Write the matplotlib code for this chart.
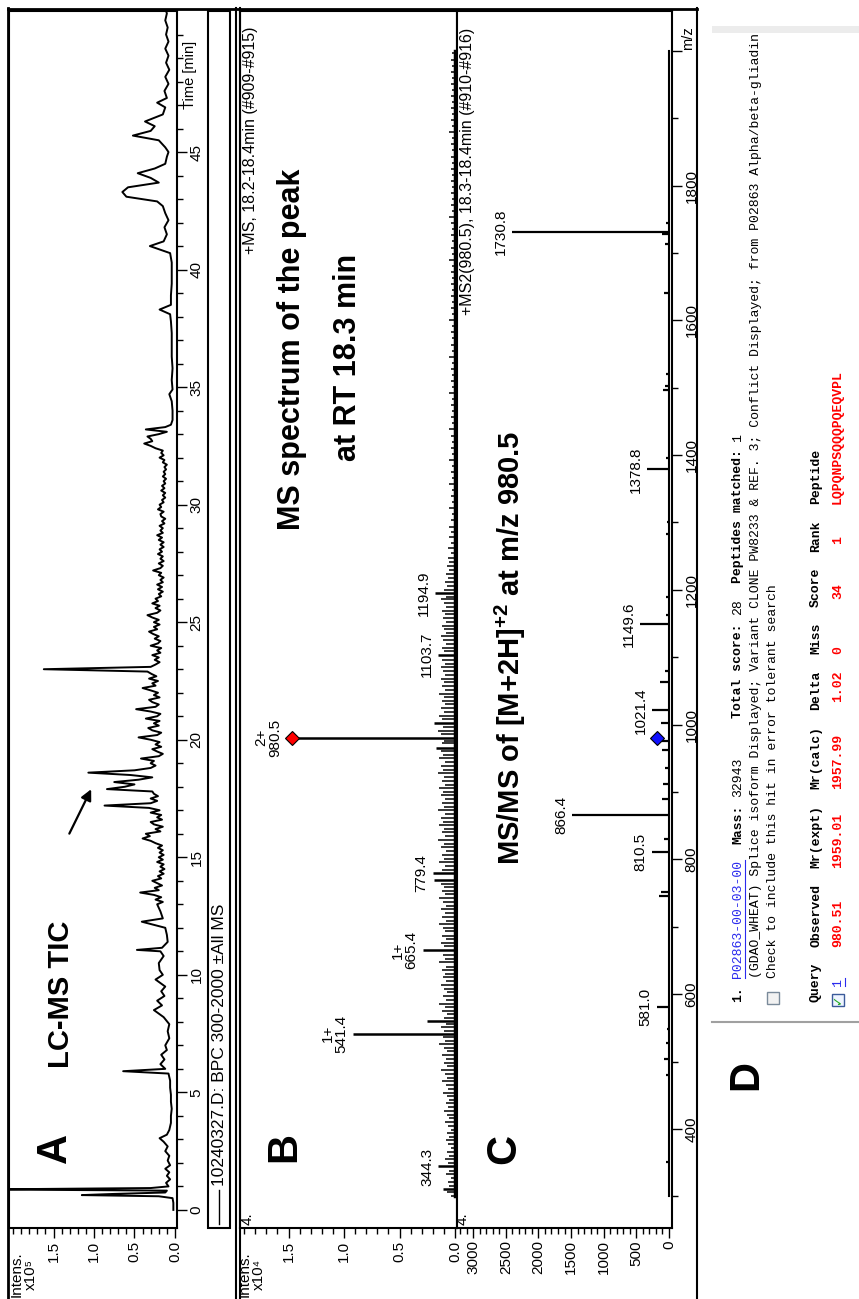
import matplotlib
matplotlib.use("Agg")
import matplotlib.pyplot as plt
from matplotlib.lines import Line2D
from matplotlib.patches import Rectangle
from matplotlib.ticker import FixedLocator

plt.rcParams['font.family'] = ['Liberation Sans', 'DejaVu Sans']
plt.rcParams['mathtext.fontset'] = 'custom'
plt.rcParams['mathtext.rm'] = 'Liberation Sans:bold'
plt.rcParams['mathtext.bf'] = 'Liberation Sans:bold'

# === DATA ===
# A: LC-MS TIC, time [min] vs intensity [x1e5]
tic_time = [0.0, 0.3, 0.5, 0.58, 0.63, 0.68, 0.74, 0.82, 0.87, 0.93,
            1.0, 1.15, 1.3, 1.45, 1.6, 1.75, 1.9, 2.1, 2.3, 2.5,
            2.7, 2.9, 3.05, 3.2, 3.4, 3.7, 4.0, 4.3, 4.6, 4.9,
            5.2, 5.5, 5.8, 5.9, 6.0, 6.2, 6.4, 6.6, 6.8, 7.0,
            7.3, 7.6, 7.9, 8.2, 8.5, 8.7, 8.9, 9.1, 9.3, 9.5,
            9.8, 10.0, 10.2, 10.5, 10.8, 11.0, 11.06, 11.15, 11.4, 11.7,
            12.0, 12.26, 12.4, 12.7,
            13.0, 13.1, 13.2, 13.3, 13.4, 13.5, 13.6, 13.7, 13.8, 13.9,
            14.0, 14.1, 14.2, 14.3, 14.4, 14.5, 14.6, 14.7, 14.8, 14.9,
            15.0, 15.1, 15.2, 15.3, 15.4, 15.5, 15.6, 15.7, 15.8, 15.9,
            16.0, 16.1, 16.2, 16.3, 16.4, 16.5, 16.6, 16.7, 16.8, 16.9,
            17.0, 17.1, 17.2, 17.3, 17.4, 17.5, 17.6, 17.7, 17.8, 17.9,
            18.0, 18.1, 18.2, 18.3, 18.4, 18.5, 18.6, 18.7, 18.8, 18.9,
            19.0, 19.1, 19.2, 19.3, 19.4, 19.5, 19.6, 19.7, 19.8, 19.9,
            20.0, 20.1, 20.2, 20.3, 20.4, 20.5, 20.6, 20.7, 20.8, 20.9,
            21.0, 21.1, 21.2, 21.3, 21.4, 21.5, 21.6, 21.7, 21.8, 21.9,
            22.0, 22.1, 22.2, 22.3, 22.4, 22.5, 22.6, 22.7, 22.8, 22.9,
            23.0, 23.1, 23.2, 23.3, 23.4, 23.5, 23.6, 23.7, 23.8, 23.9,
            24.0, 24.1, 24.2, 24.3, 24.4, 24.5, 24.6, 24.7, 24.8, 24.9,
            25.0, 25.1, 25.2, 25.3, 25.4, 25.5, 25.6, 25.7, 25.8, 25.9,
            26.0, 26.1, 26.2, 26.3, 26.4, 26.5, 26.6, 26.7, 26.8, 26.9,
            27.0, 27.1, 27.2, 27.3, 27.4, 27.5, 27.6, 27.7, 27.8, 27.9,
            28.0, 28.1, 28.2, 28.3, 28.4, 28.5, 28.6, 28.7, 28.8, 28.9,
            29.0, 29.1, 29.2, 29.3, 29.4, 29.5, 29.6, 29.7, 29.8, 29.9,
            30.0, 30.1, 30.2, 30.3, 30.4, 30.5, 30.6, 30.7, 30.8, 30.9,
            31.0, 31.1, 31.2, 31.3, 31.4, 31.5, 31.6, 31.7, 31.8, 31.9,
            32.0, 32.1, 32.2, 32.3, 32.4, 32.5, 32.6, 32.7, 32.8, 32.9,
            33.0, 33.1, 33.2, 33.3, 33.4,
            33.6, 34.0, 34.4, 34.7, 34.9, 35.3, 35.8, 36.3, 36.8, 37.3,
            37.8, 38.1, 38.3, 38.5, 38.9, 39.4, 39.9, 40.3, 40.7, 41.0,
            41.2, 41.5, 41.8, 42.1, 42.4, 42.7, 42.9, 43.1, 43.3, 43.5,
            43.7, 43.9, 44.1, 44.3, 44.5, 44.8, 45.0, 45.2, 45.5, 45.7,
            45.9, 46.1, 46.3, 46.6, 46.9, 47.1, 47.3, 47.6, 47.9, 48.2,
            48.5, 48.8, 49.1, 49.4, 49.7, 50.0, 50.3, 50.6, 50.9, 51.1]
tic_int = [0.02, 0.02, 0.03, 0.20, 1.15, 0.75, 0.12, 0.10, 2.40, 0.30,
           0.08, 0.11, 0.06, 0.10, 0.07, 0.12, 0.06, 0.09, 0.07, 0.12,
           0.09, 0.14, 0.19, 0.10, 0.07, 0.05, 0.05, 0.04, 0.05, 0.05,
           0.06, 0.06, 0.08, 0.64, 0.12, 0.18, 0.13, 0.17, 0.10, 0.12,
           0.07, 0.09, 0.07, 0.14, 0.26, 0.16, 0.22, 0.13, 0.17, 0.12,
           0.24, 0.15, 0.19, 0.20, 0.14, 0.18, 0.47, 0.16, 0.09, 0.10,
           0.12, 0.41, 0.15, 0.18,
           0.22, 0.15, 0.24, 0.17, 0.26, 0.43, 0.20, 0.25, 0.16, 0.22,
           0.28, 0.17, 0.21, 0.14, 0.19, 0.13, 0.18, 0.14, 0.22, 0.15,
           0.20, 0.14, 0.19, 0.15, 0.21, 0.16, 0.24, 0.30, 0.40, 0.31,
           0.36, 0.18, 0.24, 0.15, 0.26, 0.30, 0.16, 0.22, 0.17, 0.30,
           0.19, 0.32, 0.87, 0.30, 0.22, 0.30, 0.21, 0.26, 0.28, 0.84,
           0.62, 0.50, 0.75, 0.45, 0.28, 0.55, 1.07, 0.50, 0.30, 0.24,
           0.30, 0.26, 0.42, 0.20, 0.15, 0.22, 0.28, 0.17, 0.24, 0.19,
           0.30, 0.45, 0.22, 0.17, 0.28, 0.33, 0.20, 0.26, 0.19, 0.36,
           0.22, 0.18, 0.30, 0.48, 0.24, 0.20, 0.28, 0.32, 0.19, 0.26,
           0.21, 0.30, 0.40, 0.24, 0.28, 0.21, 0.32, 0.23, 0.29, 0.34,
           1.62, 0.30, 0.24, 0.19, 0.25, 0.20, 0.28, 0.18, 0.22, 0.17,
           0.30, 0.21, 0.18, 0.25, 0.20, 0.27, 0.32, 0.22, 0.26, 0.19,
           0.26, 0.20, 0.28, 0.34, 0.22, 0.18, 0.24, 0.19, 0.28, 0.21,
           0.24, 0.17, 0.20, 0.15, 0.21, 0.16, 0.22, 0.15, 0.18, 0.14,
           0.20, 0.17, 0.27, 0.18, 0.15, 0.20, 0.14, 0.18, 0.15, 0.21,
           0.16, 0.19, 0.14, 0.18, 0.14, 0.20, 0.16, 0.22, 0.15, 0.18,
           0.15, 0.19, 0.13, 0.16, 0.12, 0.17, 0.18, 0.14, 0.21, 0.17,
           0.19, 0.14, 0.16, 0.12, 0.15, 0.12, 0.17, 0.13, 0.16, 0.12,
           0.14, 0.11, 0.15, 0.12, 0.14, 0.11, 0.13, 0.10, 0.15, 0.13,
           0.19, 0.14, 0.17, 0.15, 0.24, 0.30, 0.38, 0.28, 0.30, 0.34,
           0.20, 0.10, 0.36, 0.12, 0.05,
           0.03, 0.03, 0.04, 0.07, 0.03, 0.04, 0.03, 0.04, 0.04, 0.04,
           0.05, 0.06, 0.19, 0.05, 0.05, 0.04, 0.04, 0.04, 0.06, 0.31,
           0.14, 0.10, 0.13, 0.08, 0.12, 0.15, 0.22, 0.60, 0.65, 0.58,
           0.20, 0.30, 0.46, 0.25, 0.12, 0.10, 0.08, 0.12, 0.20, 0.52,
           0.30, 0.25, 0.37, 0.15, 0.12, 0.22, 0.10, 0.13, 0.08, 0.12,
           0.07, 0.11, 0.08, 0.12, 0.08, 0.11, 0.09, 0.12, 0.10, 0.12]
time_ticks = [0, 5, 10, 15, 20, 25, 30, 35, 40, 45]
tic_int_ticks = [0.0, 0.5, 1.0, 1.5]
tic_int_labels = ['0.0', '0.5', '1.0', '1.5']

# B: full MS at RT 18.3 min, m/z vs intensity [x1e4]
ms_peak_mz = [311, 344.3, 541.4, 560, 665.4, 770, 779.4, 966, 980.5, 1002, 1103.7, 1194.9]
ms_peak_int = [0.11, 0.15, 0.92, 0.25, 0.29, 0.19, 0.20, 0.17, 1.47, 0.19, 0.15, 0.18]
ms_label_mz = [344.3, 541.4, 665.4, 779.4, 980.5, 1103.7, 1194.9]
ms_label_int = [0.15, 0.92, 0.29, 0.20, 1.47, 0.15, 0.18]
ms_label_txt = ['344.3', '1+\n541.4', '1+\n665.4', '779.4', '2+\n980.5', '1103.7', '1194.9']
ms_noise_mz = [301, 306, 316, 322, 327, 333, 338, 349, 355, 360, 366, 371, 377, 383, 388, 394, 399,
               405, 410, 416, 421, 427, 432, 438, 443, 449, 454, 460, 465, 471, 476, 482, 487, 493,
               498, 504, 509, 515, 520, 526, 531, 536, 546, 551, 556, 565, 570, 575, 581, 586, 592,
               597, 603, 608, 614, 619, 625, 630, 636, 641, 647, 652, 658, 671, 676, 682, 687, 693,
               698, 704, 709, 715, 720, 726, 731, 737, 742, 748, 753, 759, 764, 785, 790, 796, 801,
               807, 812, 818, 823, 829, 834, 840, 845, 851, 856, 862, 867, 873, 878, 884, 889, 895,
               900, 906, 911, 917, 922, 928, 933, 939, 944, 950, 955, 961, 972, 976, 986, 991, 997,
               1008, 1013, 1019, 1024, 1030, 1035, 1041, 1046, 1052, 1057, 1063, 1068, 1074, 1079,
               1085, 1090, 1096, 1109, 1114, 1120, 1125, 1131, 1136, 1142, 1147, 1153, 1158, 1164,
               1169, 1175, 1180, 1186, 1190, 1200, 1206, 1212, 1218, 1224, 1230, 1236, 1242, 1248,
               1255, 1262, 1270, 1278, 1286, 1294, 1303, 1312, 1321, 1330, 1339, 1348, 1357, 1366,
               1375, 1384, 1393, 1402, 1411, 1420, 1429, 1438, 1447, 1456, 1465, 1474, 1483, 1492,
               1501, 1510, 1519, 1528, 1537, 1546, 1555, 1564, 1573, 1582, 1591, 1600, 1609, 1618,
               1627, 1636, 1645, 1654, 1663, 1672, 1681, 1690, 1699, 1708, 1717, 1726, 1735, 1744,
               1753, 1762, 1771, 1780, 1789, 1798, 1807, 1816, 1825, 1834, 1843, 1852, 1861, 1870,
               1879, 1888, 1897, 1906, 1915, 1924, 1933, 1942, 1951, 1960, 1969, 1978, 1987, 1996]
ms_noise_int = [0.04, 0.07, 0.05, 0.06, 0.04, 0.08, 0.05, 0.06, 0.09, 0.05, 0.07, 0.04, 0.06, 0.08, 0.05, 0.07, 0.04,
                0.06, 0.09, 0.05, 0.07, 0.10, 0.06, 0.08, 0.05, 0.07, 0.11, 0.06, 0.08, 0.12, 0.07, 0.09, 0.13, 0.07,
                0.10, 0.08, 0.12, 0.07, 0.10, 0.14, 0.09, 0.11, 0.10, 0.13, 0.08, 0.10, 0.07, 0.12, 0.09, 0.14, 0.08,
                0.11, 0.07, 0.10, 0.13, 0.08, 0.11, 0.09, 0.12, 0.08, 0.14, 0.09, 0.11, 0.10, 0.13, 0.08, 0.12, 0.09,
                0.11, 0.14, 0.08, 0.12, 0.09, 0.13, 0.08, 0.11, 0.14, 0.09, 0.12, 0.10, 0.13, 0.12, 0.09, 0.14, 0.10,
                0.12, 0.08, 0.13, 0.10, 0.15, 0.09, 0.12, 0.10, 0.14, 0.11, 0.13, 0.09, 0.15, 0.10, 0.12, 0.09, 0.13,
                0.11, 0.14, 0.09, 0.12, 0.10, 0.15, 0.11, 0.13, 0.09, 0.14, 0.11, 0.13, 0.12, 0.10, 0.13, 0.15, 0.11,
                0.12, 0.14, 0.10, 0.13, 0.09, 0.12, 0.10, 0.14, 0.09, 0.12, 0.10, 0.13, 0.09, 0.11,
                0.13, 0.09, 0.12, 0.10, 0.12, 0.08, 0.11, 0.13, 0.08, 0.10, 0.12, 0.08, 0.11, 0.09,
                0.12, 0.08, 0.10, 0.13, 0.08, 0.10, 0.07, 0.09, 0.06, 0.08, 0.05, 0.07, 0.05, 0.06,
                0.04, 0.06, 0.04, 0.05, 0.04, 0.05, 0.04, 0.03, 0.05, 0.03, 0.04, 0.03, 0.05, 0.03,
                0.04, 0.03, 0.05, 0.03, 0.04, 0.03, 0.04, 0.05, 0.03, 0.04, 0.03, 0.04, 0.03, 0.05,
                0.03, 0.04, 0.03, 0.04, 0.03, 0.05, 0.03, 0.04, 0.03, 0.04, 0.03, 0.05, 0.03, 0.04,
                0.03, 0.04, 0.03, 0.04, 0.03, 0.04, 0.03, 0.05, 0.03, 0.04, 0.03, 0.04, 0.03, 0.04,
                0.05, 0.03, 0.04, 0.03, 0.04, 0.03, 0.04, 0.03, 0.04, 0.03, 0.04, 0.03, 0.04, 0.03,
                0.05, 0.03, 0.04, 0.03, 0.04, 0.03, 0.04, 0.03, 0.04, 0.03, 0.04, 0.03, 0.04, 0.03]
ms_int_ticks = [0.0, 0.5, 1.0, 1.5]
ms_int_labels = ['0.0', '0.5', '1.0', '1.5']

# C: MS/MS of m/z 980.5, m/z vs intensity [counts]
msms_mz = [351, 480, 504, 527, 548, 581.0, 745, 752, 810.5, 830, 866.4, 890, 912, 936, 963,
           975, 1003, 1021.4, 1063, 1079, 1149.6, 1163, 1190, 1283, 1300, 1378.8, 1395, 1497,
           1503, 1520, 1640, 1713, 1728, 1730.8, 1745]
msms_int = [40, 50, 70, 40, 30, 190, 150, 120, 260, 80, 1480, 100, 90, 60, 110,
            160, 120, 260, 140, 60, 440, 50, 40, 40, 30, 340, 50, 90,
            60, 40, 80, 60, 110, 2400, 40]
msms_label_mz = [581.0, 810.5, 866.4, 1021.4, 1149.6, 1378.8, 1730.8]
msms_label_int = [190, 260, 1480, 260, 440, 340, 2400]
msms_int_ticks = [0, 500, 1000, 1500, 2000, 2500, 3000]
mz_ticks = [400, 600, 800, 1000, 1200, 1400, 1600, 1800, 2000]
mz_labels = ['400', '600', '800', '1000', '1200', '1400', '1600', '1800', '']

# D: Mascot result (column, text) per row
d_header = [(0, 'Query'), (7, 'Observed'), (17, 'Mr(expt)'), (27, 'Mr(calc)'), (37, 'Delta'),
            (44, 'Miss'), (50, 'Score'), (57, 'Rank'), (63, 'Peptide')]
d_row = [(7, '980.51'), (17, '1959.01'), (27, '1957.99'), (38, '1.02'), (44, '0'),
         (51, '34'), (58, '1'), (63, 'LQPQNPSQQQPQEQVPL')]

# === LAYOUT (pixel coords, y from top) ===
W, H = 859, 1299
fig = plt.figure(figsize=(W / 100, H / 100), dpi=100)
TICK_FS = 11


def rect(x0, y0, x1, y1):
    return [x0 / W, 1 - y1 / H, (x1 - x0) / W, (y1 - y0) / H]


def fline(xs, ys, **kw):
    fig.add_artist(Line2D([x / W for x in xs], [1 - y / H for y in ys],
                          transform=fig.transFigure, **kw))


def ftext(x, y, s, **kw):
    kw.setdefault('rotation', 90)
    return fig.text(x / W, 1 - y / H, s, **kw)


def style(ax):
    for sp in ax.spines.values():
        sp.set_linewidth(1.5)
    ax.tick_params(which='both', direction='out', width=1, labelsize=TICK_FS, pad=2)
    ax.tick_params(which='major', length=7)
    ax.tick_params(which='minor', length=4)


# outer frames
fline([8, 8], [8, 1299], color='k', lw=2)
fline([8, 697], [9, 9], color='k', lw=2)
fline([236, 236], [8, 1299], color='k', lw=1.5)
fline([240, 240], [8, 1299], color='k', lw=1.5)
fline([697, 697], [8, 1299], color='k', lw=1.5)

# --- A: TIC ---
ax_a = fig.add_axes(rect(9, 11, 177, 1228))
style(ax_a)
ax_a.plot(tic_int, tic_time, color='k', lw=1.4)
ax_a.set_xlim(2.05, -0.025)
ax_a.set_ylim(-0.77, 51.0)
ax_a.set_xticks(tic_int_ticks, tic_int_labels, rotation=90)
ax_a.xaxis.set_minor_locator(FixedLocator([i / 10 for i in range(0, 21)]))
ax_a.yaxis.tick_right()
ax_a.set_yticks(time_ticks, [str(t) for t in time_ticks], rotation=90, va='center')
ax_a.yaxis.set_minor_locator(FixedLocator(list(range(0, 51))))
ax_a.annotate('', xy=(1.02, 18.0), xytext=(1.32, 15.9),
              arrowprops=dict(arrowstyle='-|>', color='k', lw=1.6, mutation_scale=16))
ftext(61, 994, 'LC-MS TIC', ha='center', va='center', fontsize=21, fontweight='bold')
ftext(190, 75, 'Time [min]', ha='center', va='center', fontsize=10.5)
ftext(17, 1297, 'Intens.', rotation_mode='anchor', ha='left', va='center', fontsize=TICK_FS)
ftext(31, 1290, 'x10⁵', rotation_mode='anchor', ha='left', va='center', fontsize=TICK_FS)

# legend box
fig.add_artist(Rectangle((208 / W, 1 - 1228 / H), 22 / W, 1217 / H, transform=fig.transFigure,
                         fill=False, ec='k', lw=1.5))
fline([219, 219], [1224, 1190], color='k', lw=1)
ftext(219, 1186, '10240327.D: BPC 300-2000 ±All MS', rotation_mode='anchor',
      ha='left', va='center', fontsize=12.5)

# --- B: MS spectrum ---
ax_b = fig.add_axes(rect(240, 11, 457, 1228))
style(ax_b)
ax_b.hlines(ms_noise_mz, 0, ms_noise_int, color='k', lw=1.1)
ax_b.hlines(ms_peak_mz, 0, ms_peak_int, color='k', lw=1.8)
ax_b.plot([0, 0], [300, 2000], color='k', lw=2.5)
ax_b.plot(ms_label_int[4], ms_label_mz[4], marker='D', ms=7, mfc='red', mec='k', mew=0.8)
for mz, it, txt in zip(ms_label_mz, ms_label_int, ms_label_txt):
    off = -7 if txt.startswith('2+') else -3
    ax_b.annotate(txt, xy=(it, mz), xytext=(off, 0), textcoords='offset points',
                  rotation=90, ha='right', va='center', fontsize=TICK_FS,
                  multialignment='center', linespacing=1.0)
ax_b.set_xlim(1.937, -0.018)
ax_b.set_ylim(253, 2059)
ax_b.set_xticks(ms_int_ticks, ms_int_labels, rotation=90)
ax_b.xaxis.set_minor_locator(FixedLocator([i / 10 for i in range(0, 20)]))
ax_b.set_yticks([])
ftext(292, 349, 'MS spectrum of the peak', ha='center', va='center',
      fontsize=22, fontweight='bold')
ftext(348, 357, 'at RT 18.3 min', ha='center', va='center', fontsize=22, fontweight='bold')
ftext(250, 26, '+MS, 18.2-18.4min (#909-#915)', rotation_mode='anchor', ha='right',
      va='center', fontsize=11.5)
ftext(248, 1225, '4.', rotation_mode='anchor', ha='left', va='center', fontsize=TICK_FS)
ftext(245, 1297, 'Intens.', rotation_mode='anchor', ha='left', va='center', fontsize=TICK_FS)
ftext(259, 1290, 'x10⁴', rotation_mode='anchor', ha='left', va='center', fontsize=TICK_FS)

# --- C: MS/MS spectrum ---
ax_c = fig.add_axes(rect(457, 11, 672, 1228))
style(ax_c)
ax_c.hlines(msms_mz, 0, msms_int, color='k', lw=1.6)
ax_c.plot([0, 0], [300, 2000], color='k', lw=1.5)
ax_c.plot(184, 980.5, marker='D', ms=7, mfc='#1010ff', mec='k', mew=0.8)
for mz, it in zip(msms_label_mz, msms_label_int):
    ax_c.annotate(f'{mz:.1f}', xy=(it, mz), xytext=(-3, 0), textcoords='offset points',
                  rotation=90, ha='right', va='center', fontsize=TICK_FS)
ax_c.set_xlim(3247, -46)
ax_c.set_ylim(253, 2059)
ax_c.set_xticks(msms_int_ticks, [str(t) for t in msms_int_ticks], rotation=90)
ax_c.xaxis.set_minor_locator(FixedLocator(list(range(0, 3300, 100))))
ax_c.yaxis.tick_right()
ax_c.set_yticks(mz_ticks, mz_labels, rotation=90, va='center')
ax_c.yaxis.set_minor_locator(FixedLocator(list(range(300, 2100, 100))))
ftext(510, 648, 'MS/MS of [M+2H]$^{+2}$ at m/z 980.5', ha='center', va='center',
      fontsize=21, fontweight='bold')
ftext(467, 28, '+MS2(980.5), 18.3-18.4min (#910-#916)', rotation_mode='anchor', ha='right',
      va='center', fontsize=11.5)
ftext(463, 1225, '4.', rotation_mode='anchor', ha='left', va='center', fontsize=TICK_FS)
ftext(688, 38, 'm/z', ha='center', va='center', fontsize=10.5)

# panel letters
for x, y, s in [(55, 1148, 'A'), (284, 1147, 'B'), (504, 1149, 'C'), (746, 1075, 'D')]:
    ftext(x, y, s, ha='center', va='center', fontsize=30, fontweight='bold')

# --- D: Mascot hit ---
MONO = 'Liberation Mono'
P = 7.9
Y0 = 1002
FS = P / 0.6 * 0.72


def dtext(col, x, s, **kw):
    return ftext(x, Y0 - col * P, s, rotation_mode='anchor', ha='left', va='center',
                 family=MONO, fontsize=FS, **kw)


fig.add_artist(Rectangle((712 / W, 1 - 33 / H), 147 / W, 7 / H, transform=fig.transFigure,
                         fc='#ececec', ec='none'))
fline([712, 859], [1022, 1022], color='#a0a0a0', lw=1.5)

blue = '#2a2aee'
dtext(0, 738, '1.', fontweight='bold')
dtext(3, 738, 'P02863-00-03-00', color=blue)
fline([745, 745], [Y0 - 3 * P, Y0 - 18 * P], color=blue, lw=0.8)
dtext(20, 738, 'Mass:', fontweight='bold')
dtext(26, 738, '32943')
dtext(36, 738, 'Total score:', fontweight='bold')
dtext(49, 738, '28')
dtext(53, 738, 'Peptides matched:', fontweight='bold')
dtext(71, 738, '1')
dtext(3, 756, '(GDAO_WHEAT) Splice isoform Displayed; Variant CLONE PW8233 & REF. 3; '
              'Conflict Displayed; from P02863 Alpha/beta-gliadin')
fig.add_artist(Rectangle((767 / W, 1 - 1004 / H), 12 / W, 12 / H, transform=fig.transFigure,
                         fc='#f2f2f2', ec='#7a8a9a', lw=1))
dtext(3, 773, 'Check to include this hit in error tolerant search')
for col, s in d_header:
    dtext(col, 816, s, fontweight='bold')
fig.add_artist(Rectangle((832 / W, 1 - 1006 / H), 12 / W, 12 / H, transform=fig.transFigure,
                         fc='#eef4ff', ec='#3a5a9a', lw=1))
ftext(838, 1000, '✓', ha='center', va='center', color='#22aa22', fontsize=9,
      fontweight='bold', family=['DejaVu Sans'])
dtext(2, 838, '1', color=blue)
fline([845, 845], [Y0 - 2 * P, Y0 - 3 * P], color=blue, lw=0.8)
for col, s in d_row:
    dtext(col, 838, s, color='red', fontweight='bold')

fig.savefig('out.png', dpi=100)
